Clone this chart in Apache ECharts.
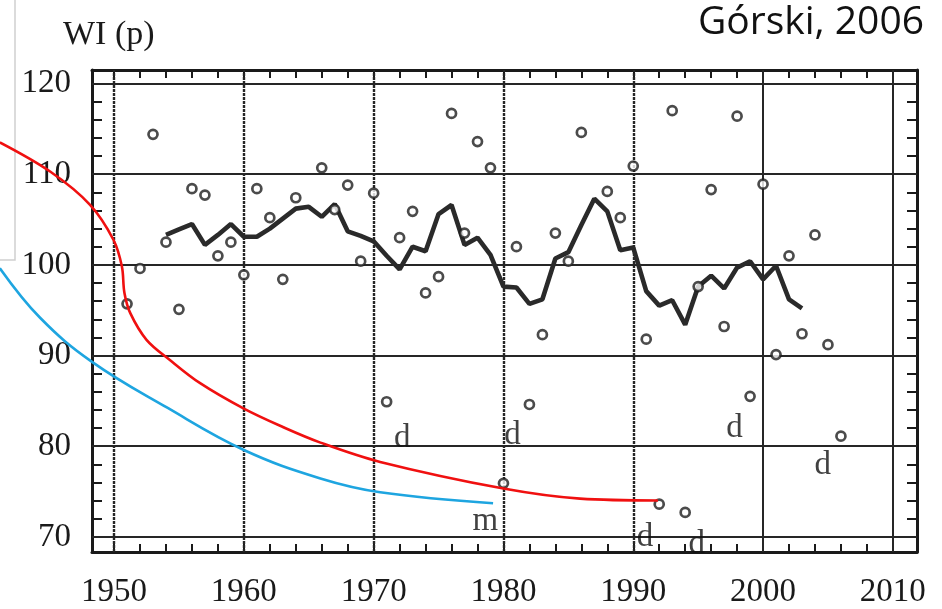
<!DOCTYPE html>
<html><head><meta charset="utf-8">
<script src="https://cdn.jsdelivr.net/npm/echarts@6/dist/echarts.min.js"></script>
<style>html,body{margin:0;padding:0;background:#fff}#c{width:942px;height:609px}</style>
</head><body><div id="c"></div>
<script>
// ---- data ----
var pointYears = [1951,1952,1953,1954,1955,1956,1957,1958,1959,1960,1961,1962,1963,1964,1966,1967,1968,1969,1970,1971,1972,1973,1974,1975,1976,1977,1978,1979,1980,1981,1982,1983,1984,1985,1986,1988,1989,1990,1991,1992,1993,1994,1995,1996,1997,1998,1999,2000,2001,2002,2003,2004,2005,2006];
var pointValues = [95.7,99.6,114.4,102.5,95.1,108.4,107.7,101.0,102.5,98.9,108.4,105.2,98.4,107.4,110.7,106.1,108.8,100.4,107.9,84.9,103.0,105.9,96.9,98.7,116.7,103.5,113.6,110.7,75.9,102.0,84.6,92.3,103.5,100.4,114.6,108.1,105.2,110.9,91.8,73.6,117.0,72.7,97.6,108.3,93.2,116.4,85.5,108.9,90.1,101.0,92.4,103.3,91.2,81.1];
var lineYears = [1954,1955,1956,1957,1958,1959,1960,1961,1962,1963,1964,1965,1966,1967,1968,1969,1970,1971,1972,1973,1974,1975,1976,1977,1978,1979,1980,1981,1982,1983,1984,1985,1986,1987,1988,1989,1990,1991,1992,1993,1994,1995,1996,1997,1998,1999,2000,2001,2002,2003];
var lineValues = [103.3,103.9,104.5,102.2,103.3,104.5,103.1,103.1,104.0,105.1,106.2,106.4,105.3,106.7,103.7,103.2,102.6,101.0,99.5,102.0,101.5,105.6,106.6,102.2,103.0,101.1,97.6,97.5,95.7,96.2,100.7,101.4,104.4,107.3,105.9,101.6,101.9,97.1,95.5,96.1,93.4,97.6,98.8,97.4,99.7,100.4,98.4,99.9,96.2,95.2];
var noteYears = [1972.2,1980.7,1997.8,2004.6,1978.6,1990.9,1994.9];
var noteValues = [80.9,81.2,82.0,77.9,71.7,70.0,69.2];
var noteTexts = ['d','d','d','d','m','d','d'];
var redYears = [1941.2,1945.1,1948.15,1949.95,1950.6,1950.8,1951.25,1952.5,1954.3,1956.6,1960.0,1963.0,1965.9,1970.5,1980.0,1985.9,1991.9];
var redValues = [113.6,110.4,106.8,103.0,100.1,97.2,95.0,92.1,89.9,87.4,84.6,82.6,80.9,78.8,75.9,74.8,74.6];
var blueYears = [1941.2,1944.3,1948.3,1954.1,1960.0,1965.9,1970.5,1979.2];
var blueValues = [99.9,94.5,89.7,84.7,80.1,77.0,75.5,74.3];
var xLabelYears = [1950,1960,1970,1980,1990,2000,2010];
var xTickYears = [];
for (var t = 1950; t <= 2010; t += 2) xTickYears.push(t);
var yLabelValues = [70,80,90,100,110,120];
var yTickValues = [];
for (var v = 70; v <= 120; v += 2) yTickValues.push(v);
var yAxisName = 'WI (p)';
var sourceText = 'Górski, 2006';

// axis extents of the framed plot and of the full-page overlay (same scale)
var XMIN = 1948.3, XMAX = 2011.86, YMIN = 68.33, YMAX = 121.49;
var PXX = 12.98, PXY = 9.18;
var G = { left: 92, right: 25, top: 70, bottom: 51 };
var OXMIN = XMIN - G.left / PXX, OXMAX = XMAX + G.right / PXX;
var OYMIN = YMIN - G.bottom / PXY, OYMAX = YMAX + G.top / PXY;
var INK = '#1a1a1a';
function zip(a, b) { return a.map(function (x, i) { return [x, b[i]]; }); }

var vLines = xLabelYears.map(function (y) {
  return { xAxis: y, lineStyle: { type: y >= 2000 ? 'solid' : [3, 1], width: y >= 2000 ? 2 : 2.4, color: '#262626' } };
});
var hLines = yLabelValues.map(function (y) {
  return { yAxis: y, lineStyle: { type: 'solid', width: 2, color: '#262626' } };
});

var chart = echarts.init(document.getElementById('c'), null, { renderer: 'canvas' });
chart.setOption({
  animation: false,
  backgroundColor: '#fff',
  title: [
    { text: yAxisName, left: 58, top: 13, textStyle: { fontFamily: 'Liberation Serif', fontSize: 34, fontWeight: 'normal', color: INK } },
    { text: sourceText, right: 13, top: -2, textStyle: { fontFamily: 'Open Sans', fontSize: 39, fontWeight: 'normal', color: '#111' } }
  ],
  graphic: [
    { type: 'rect', shape: { x: -5, y: -5, width: 20, height: 265 }, style: { fill: 'none', stroke: '#cfcfcf', lineWidth: 1.5 }, z: 0 }
  ],
  grid: [
    { left: G.left, right: G.right, top: G.top, bottom: G.bottom, containLabel: false },
    { left: 0, right: 0, top: 0, bottom: 0, containLabel: false }
  ],
  xAxis: [
    { type: 'value', gridIndex: 0, min: XMIN, max: XMAX, position: 'bottom',
      axisLine: { show: true, onZero: false, lineStyle: { color: INK, width: 3 } },
      axisTick: { show: true, inside: true, length: 8, customValues: xTickYears, lineStyle: { color: INK, width: 2 } },
      axisLabel: { show: true, customValues: xLabelYears, margin: 24, formatter: function (v) { return String(v); }, fontFamily: 'Liberation Serif', fontSize: 33, color: INK },
      splitLine: { show: false } },
    { type: 'value', gridIndex: 0, min: XMIN, max: XMAX, position: 'top',
      axisLine: { show: true, onZero: false, lineStyle: { color: INK, width: 3 } },
      axisTick: { show: true, inside: true, length: 8, customValues: xTickYears, lineStyle: { color: INK, width: 2 } },
      axisLabel: { show: false }, splitLine: { show: false } },
    { type: 'value', gridIndex: 1, min: OXMIN, max: OXMAX, show: false }
  ],
  yAxis: [
    { type: 'value', gridIndex: 0, min: YMIN, max: YMAX, position: 'left',
      axisLine: { show: true, onZero: false, lineStyle: { color: INK, width: 3 } },
      axisTick: { show: true, inside: true, length: 10, customValues: yTickValues, lineStyle: { color: INK, width: 2 } },
      axisLabel: { show: true, customValues: yLabelValues, margin: 21, formatter: function (v) { return String(v); }, fontFamily: 'Liberation Serif', fontSize: 33, color: INK, padding: [0, 0, 6, 0] },
      splitLine: { show: false } },
    { type: 'value', gridIndex: 0, min: YMIN, max: YMAX, position: 'right',
      axisLine: { show: true, onZero: false, lineStyle: { color: INK, width: 3 } },
      axisTick: { show: true, inside: true, length: 10, customValues: yTickValues, lineStyle: { color: INK, width: 2 } },
      axisLabel: { show: false }, splitLine: { show: false } },
    { type: 'value', gridIndex: 1, min: OYMIN, max: OYMAX, show: false }
  ],
  series: [
    { type: 'line', name: 'mean', xAxisIndex: 0, yAxisIndex: 0, data: zip(lineYears, lineValues), symbol: 'none', lineStyle: { color: '#2a2a2a', width: 4.6 }, z: 3,
      markLine: { silent: true, symbol: 'none', label: { show: false }, animation: false, data: vLines.concat(hLines), z: 1 } },
    { type: 'scatter', name: 'WI', xAxisIndex: 0, yAxisIndex: 0, data: zip(pointYears, pointValues), symbol: 'circle', symbolSize: 9,
      itemStyle: { color: '#ffffff', borderColor: '#1e1e1e', borderWidth: 2.7 }, z: 4 },
    { type: 'scatter', name: 'notes', xAxisIndex: 0, yAxisIndex: 0, data: zip(noteYears, noteValues), symbolSize: 0, clip: false,
      label: { show: true, position: 'inside', formatter: function (p) { return noteTexts[p.dataIndex]; }, fontFamily: 'Liberation Serif', fontSize: 33, color: '#111' }, z: 5 },
    { type: 'line', name: 'red', xAxisIndex: 2, yAxisIndex: 2, data: zip(redYears, redValues), smooth: 0.35, symbol: 'none', lineStyle: { color: '#f01010', width: 2.6 }, z: 6 },
    { type: 'line', name: 'blue', xAxisIndex: 2, yAxisIndex: 2, data: zip(blueYears, blueValues), smooth: 0.4, symbol: 'none', lineStyle: { color: '#1ea5e0', width: 2.6 }, z: 6 }
  ]
});
</script></body></html>
